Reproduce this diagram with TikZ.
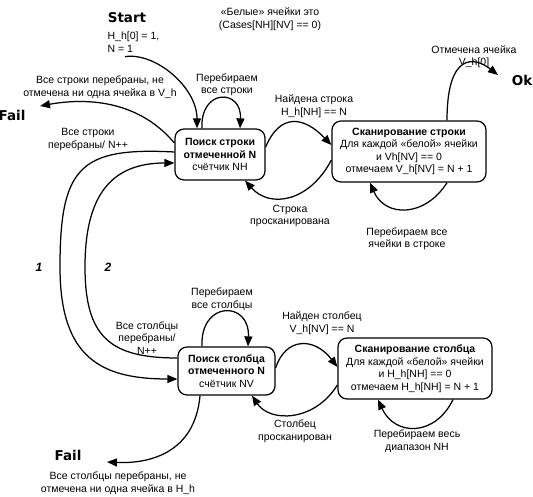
\documentclass[tikz,border=0pt]{standalone}
\usepackage{fontspec}
\setmainfont{Liberation Sans}
\newfontfamily\heavyfont{DejaVu Sans}
\usetikzlibrary{arrows.meta}

\begin{document}
\begin{tikzpicture}[x=1pt, y=1pt, line width=1.25pt, >={Triangle[length=10pt,width=8pt]},
	state/.style={draw, rounded corners=9pt, align=center, inner sep=2pt,
		font=\fontsize{10.5}{12.5}\selectfont},
	lbl/.style={align=center, inner sep=0pt, font=\fontsize{10.5}{12.5}\selectfont},
	term/.style={inner sep=0pt, font=\heavyfont\bfseries\fontsize{13.5}{15}\selectfont},
	num/.style={inner sep=0pt, font=\bfseries\itshape\fontsize{12}{13}\selectfont}]
	\useasboundingbox (0,0) rectangle (533,497);
	% states
	\node [state, minimum width=90pt, minimum height=51pt] (rowsearch) at (220,342.5)
		{\textbf{Поиск строки}\\\textbf{отмеченной N}\\счётчик NH};
	\node [state, minimum width=154pt, minimum height=61pt] (rowscan) at (409,345.5)
		{\textbf{Сканирование строки}\\Для каждой «белой» ячейки\\и Vh[NV] == 0\\отмечаем V\_h[NV] = N + 1};
	\node [state, minimum width=97pt, minimum height=48pt] (colsearch) at (226.5,126)
		{\textbf{Поиск столбца}\\\textbf{отмеченного N}\\счётчик NV};
	\node [state, minimum width=154pt, minimum height=61pt] (colscan) at (415,128.5)
		{\textbf{Сканирование столбца}\\Для каждой «белой» ячейки\\и H\_h[NH] == 0\\отмечаем H\_h[NH] = N + 1};
	% terminals
	\node [term] (start) at (127,479) {Start};
	\node [lbl, align=left, anchor=west] (init) at (107,455) {H\_h[0] = 1,\\N = 1};
	\node [lbl] (note) at (270,478) {«Белые» ячейки это\\(Cases[NH][NV] == 0)};
	\node [term] (failrow) at (12,382) {Fail};
	\node [term] (ok) at (522,417) {Ok};
	\node [term] (failcol) at (68,42) {Fail};
	\coordinate (f1) at (40,391);
	\coordinate (okin) at (498,422);
	\coordinate (f2) at (107,35);
	% labels
	\node [lbl] (rowloop) at (227,412.5) {Перебираем\\все строки};
	\node [lbl] (rowfail) at (100,410) {Все строки перебраны, не\\отмечена ни одна ячейка в V\_h};
	\node [lbl] (rowdone) at (88,357.5) {Все строки\\перебраны/ N++};
	\node [num] (one) at (39,230) {1};
	\node [num] (two) at (108,230) {2};
	\node [lbl] (rowfound) at (314,391) {Найдена строка\\H\_h[NH] == N};
	\node [lbl] (rowscanned) at (290,281) {Строка\\просканирована};
	\node [lbl] (cellloop) at (407,258.5) {Перебираем все\\ячейки в строке};
	\node [lbl] (marked) at (474,440.5) {Отмечена ячейка\\V\_h[0]};
	\node [lbl] (colloop) at (222,198) {Перебираем\\все столбцы};
	\node [lbl] (coldone) at (147,159) {Все столбцы\\перебраны/\\N++};
	\node [lbl] (colfound) at (322,174) {Найден столбец\\V\_h[NV] == N};
	\node [lbl] (colscanned) at (295,66) {Столбец\\просканирован};
	\node [lbl] (rangeloop) at (417,56) {Перебираем весь\\диапазон NH};
	\node [lbl] (colfail) at (118,14) {Все столбцы перебраны, не\\отмечена ни одна ячейка в H\_h};
	% row part
	\draw[->] ([xshift=18pt,yshift=-4pt]init.south west) .. controls (155,445) and (197,410) .. ([xshift=-23pt]rowsearch.north);
	\draw[->] ([xshift=-18pt]rowsearch.north) .. controls +(-2,40) and +(2,40) .. ([xshift=20pt]rowsearch.north);
	\draw[->] ([yshift=11.5pt]rowsearch.west) .. controls (140,395) and (90,400) .. (f1);
	\draw[->] ([yshift=7.5pt]rowsearch.east) .. controls +(15,35) and +(-27,28) .. ([yshift=6.5pt]rowscan.west);
	\draw[->] ([yshift=-8.5pt]rowscan.west) .. controls +(-22,-42) and +(25,-28) .. ([xshift=25pt]rowsearch.south);
	\draw[->] ([xshift=38pt]rowscan.south) .. controls +(-22,-35) and +(15,-35) .. ([xshift=-39pt]rowscan.south);
	\draw[->] ([xshift=38pt]rowscan.north) .. controls +(0,69) and +(-23,18) .. (okin);
	% 1 and 2
	\draw[->] ([yshift=2.5pt]rowsearch.west) .. controls (80,350) and (60,330) .. (60,230)
		.. controls (60,140) and (100,118) .. ([yshift=-8pt]colsearch.west);
	\draw[->] ([yshift=13pt]colsearch.west) .. controls (110,139) and (85,160) .. (85,230)
		.. controls (85,300) and (110,334) .. ([yshift=-8.5pt]rowsearch.west);
	% column part
	\draw[->] ([xshift=-24.5pt]colsearch.north) .. controls +(-2,46) and +(2,46) .. ([xshift=21.5pt]colsearch.north);
	\draw[->] ([yshift=3pt]colsearch.east) .. controls +(10,31) and +(-23,30) .. ([yshift=1.5pt]colscan.west);
	\draw[->] ([yshift=-16.5pt]colscan.west) .. controls +(-23,-37) and +(18,-27) .. ([xshift=25.5pt]colsearch.south);
	\draw[->] ([xshift=38pt]colscan.south) .. controls +(-18,-37) and +(17,-37) .. ([xshift=-37pt]colscan.south);
	\draw[->] ([xshift=-26.5pt]colsearch.south) .. controls +(-5,-57) and +(43,-2) .. (f2);
\end{tikzpicture}
\end{document}
